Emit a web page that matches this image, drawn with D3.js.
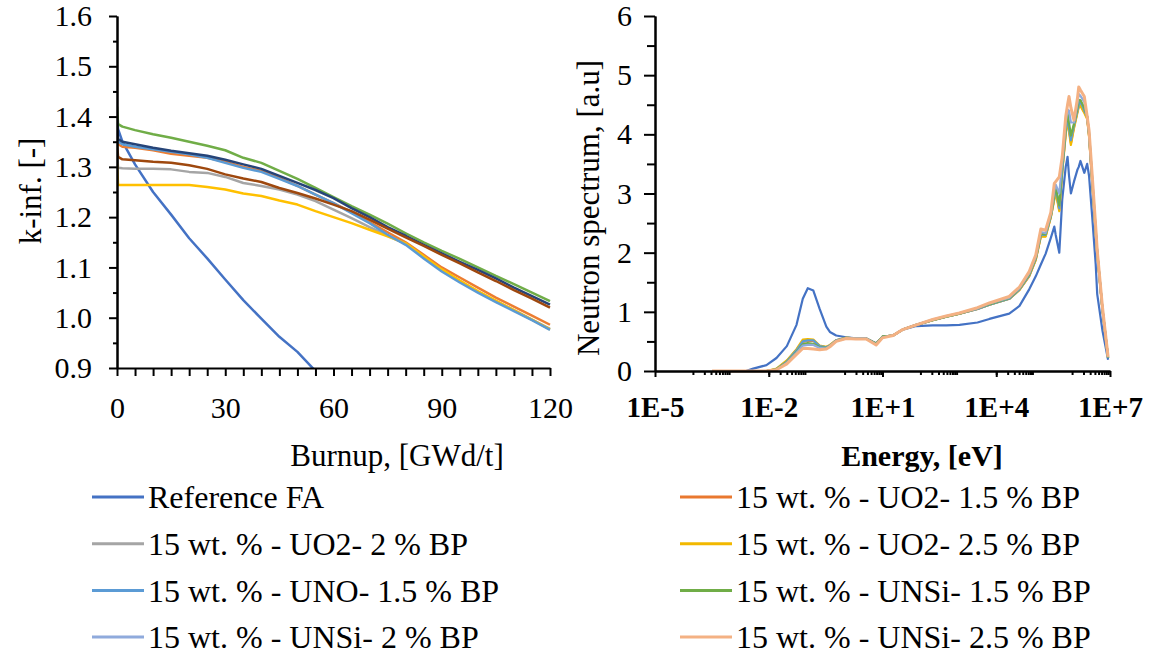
<!DOCTYPE html>
<html>
<head>
<meta charset="utf-8">
<script src="https://cdn.jsdelivr.net/npm/d3@7"></script>
<style>
  body { margin: 0; background: #fff; }
</style>
</head>
<body>
<svg id="chart" width="1151" height="655"></svg>
<script>
const width = 1151;
const height = 655;
const serif = "Liberation Serif";

// series (same order in both charts and legend)
const seriesNames = [
    "Reference FA",
    "15 wt. % - UO2- 1.5 % BP",
    "15 wt. % - UO2- 2 % BP",
    "15 wt. % - UO2- 2.5 % BP",
    "15 wt. % - UNO- 1.5 % BP",
    "15 wt. % - UNSi- 1.5 % BP",
    "15 wt. % - UNSi- 2 % BP",
    "15 wt. % - UNSi- 2.5 % BP"
];
const kinfColors = ["#4472C4", "#ED7D31", "#A5A5A5", "#FFC000", "#5B9BD5", "#70AD47", "#264478", "#9E480E"];
const spectrumColors = ["#4472C4", "#E9782F", "#A5A5A5", "#F2B800", "#5B9BD5", "#70AD47", "#8FAADC", "#F4B183"];

// k-inf vs burnup [GWd/t]
const burnup = [0, 0.3, 1.5, 5, 10, 15, 20, 25, 30, 35, 40, 45, 50, 55, 60, 65, 70, 75, 80, 85, 90, 95, 100, 105, 110, 115, 120];
const kinfRef      = [1.400, 1.375, 1.350, 1.305, 1.250, 1.205, 1.158, 1.118, 1.076, 1.035, 0.998, 0.962, 0.932, 0.894, null, null, null, null, null, null, null, null, null, null, null, null, null];
const kinfUO2_15   = [1.363, 1.345, 1.340, 1.338, 1.333, 1.326, 1.322, 1.318, 1.310, 1.300, 1.292, 1.278, 1.262, 1.245, 1.228, 1.210, 1.190, 1.170, 1.150, 1.125, 1.100, 1.080, 1.060, 1.040, 1.022, 1.004, 0.986];
const kinfUO2_2    = [1.330, 1.298, 1.297, 1.296, 1.296, 1.295, 1.290, 1.288, 1.280, 1.268, 1.262, 1.255, 1.245, 1.232, 1.215, 1.198, 1.180, 1.163, 1.147, 1.120, 1.095, 1.073, 1.052, 1.033, 1.015, 0.996, 0.978];
const kinfUO2_25   = [1.307, 1.264, 1.264, 1.264, 1.264, 1.264, 1.264, 1.260, 1.255, 1.247, 1.242, 1.233, 1.225, 1.212, 1.200, 1.188, 1.175, 1.162, 1.148, 1.122, 1.096, 1.074, 1.053, 1.034, 1.015, 0.996, 0.977];
const kinfUNO_15   = [1.375, 1.350, 1.345, 1.340, 1.335, 1.330, 1.325, 1.318, 1.308, 1.298, 1.290, 1.276, 1.262, 1.245, 1.228, 1.208, 1.188, 1.165, 1.145, 1.118, 1.092, 1.070, 1.050, 1.031, 1.013, 0.995, 0.976];
const kinfUNSi_15  = [1.420, 1.385, 1.380, 1.373, 1.365, 1.358, 1.350, 1.342, 1.333, 1.318, 1.308, 1.292, 1.276, 1.258, 1.240, 1.222, 1.205, 1.187, 1.168, 1.150, 1.133, 1.117, 1.100, 1.083, 1.067, 1.050, 1.033];
const kinfUNSi_2   = [1.395, 1.355, 1.350, 1.345, 1.338, 1.332, 1.327, 1.322, 1.314, 1.305, 1.296, 1.282, 1.268, 1.254, 1.238, 1.218, 1.200, 1.180, 1.163, 1.145, 1.128, 1.111, 1.095, 1.078, 1.060, 1.043, 1.026];
const kinfUNSi_25  = [1.347, 1.320, 1.315, 1.313, 1.310, 1.308, 1.303, 1.296, 1.285, 1.277, 1.270, 1.258, 1.248, 1.237, 1.225, 1.212, 1.195, 1.177, 1.160, 1.143, 1.125, 1.108, 1.090, 1.073, 1.055, 1.038, 1.020];
const kinfSeries = [kinfRef, kinfUO2_15, kinfUO2_2, kinfUO2_25, kinfUNO_15, kinfUNSi_15, kinfUNSi_2, kinfUNSi_25];

// neutron spectrum vs energy [eV]
const energy = [3.2e-4, 2.5e-3, 3.9e-3, 8.7e-3, 1.6e-2, 3.0e-2, 5.4e-2, 7.9e-2, 0.107, 0.15, 0.22, 0.33, 0.41, 0.6,
    1.1, 2.0, 3.7, 6.8, 10, 19, 34, 78, 210, 480, 1070, 3200, 6600, 2.2e4, 4.1e4, 7.4e4,
    1.1e5, 1.5e5, 2.0e5, 2.75e5, 3.4e5, 3.7e5, 4.6e5, 5.5e5, 6.8e5, 7.6e5, 8.3e5, 9.3e5,
    1.12e6, 1.38e6, 1.5e6, 1.66e6, 2.1e6, 2.5e6, 2.8e6, 3.4e6, 4.2e6, 4.6e6, 6.3e6, 8.9e6];
const specRef     = [null, 0.00, 0.04, 0.10, 0.22, 0.42, 0.78, 1.22, 1.40, 1.36, 1.05, 0.75, 0.66, 0.60,
    0.57, 0.55, 0.55, 0.47, 0.58, 0.60, 0.70, 0.76, 0.77, 0.77, 0.78, 0.82, 0.88, 0.97, 1.10, 1.38,
    1.60, 1.80, 1.98, 2.25, 2.44, 2.30, 2.00, 2.90, 3.45, 3.62, 3.30, 3.00,
    3.20, 3.40, 3.45, 3.55, 3.35, 3.50, 3.30, 2.60, 1.80, 1.30, 0.69, 0.19];
const specUO2_15  = [0, 0, 0, 0, 0.03, 0.16, 0.35, 0.49, 0.51, 0.51, 0.42, 0.40, 0.43, 0.52,
    0.56, 0.55, 0.55, 0.46, 0.58, 0.60, 0.70, 0.78, 0.86, 0.92, 0.97, 1.05, 1.12, 1.22, 1.37, 1.60,
    1.88, 2.28, 2.28, 2.60, 2.92, 3.05, 2.72, 3.38, 4.02, 4.28, 4.08, 3.85, 4.12, 4.38, 4.48, 4.50,
    4.38, 4.28, 3.98, 3.20, 2.35, 2.00, 1.05, 0.22];
const specUO2_2   = [0, 0, 0, 0, 0.03, 0.17, 0.36, 0.50, 0.52, 0.52, 0.42, 0.40, 0.43, 0.52,
    0.56, 0.55, 0.55, 0.46, 0.58, 0.60, 0.70, 0.78, 0.86, 0.92, 0.97, 1.05, 1.12, 1.22, 1.38, 1.61,
    1.89, 2.29, 2.29, 2.61, 2.93, 3.08, 2.74, 3.39, 4.05, 4.29, 4.09, 3.88, 4.14, 4.39, 4.49, 4.53,
    4.39, 4.29, 3.99, 3.20, 2.35, 2.00, 1.05, 0.22];
const specUO2_25  = [0, 0, 0, 0, 0.04, 0.18, 0.37, 0.53, 0.54, 0.53, 0.43, 0.41, 0.44, 0.52,
    0.56, 0.55, 0.55, 0.46, 0.58, 0.60, 0.70, 0.78, 0.86, 0.92, 0.97, 1.05, 1.12, 1.22, 1.37, 1.61,
    1.88, 2.27, 2.27, 2.60, 2.90, 3.02, 2.70, 3.36, 4.00, 4.25, 4.05, 3.82, 4.10, 4.36, 4.46, 4.48,
    4.36, 4.26, 3.96, 3.18, 2.34, 1.99, 1.05, 0.22];
const specUNO_15  = [0, 0, 0, 0, 0.03, 0.16, 0.35, 0.50, 0.52, 0.52, 0.42, 0.40, 0.43, 0.52,
    0.56, 0.55, 0.55, 0.46, 0.58, 0.60, 0.70, 0.78, 0.86, 0.92, 0.97, 1.05, 1.12, 1.22, 1.38, 1.62,
    1.90, 2.30, 2.30, 2.62, 2.95, 3.10, 2.75, 3.40, 4.07, 4.30, 4.10, 3.90, 4.15, 4.40, 4.50, 4.56,
    4.40, 4.30, 4.00, 3.20, 2.35, 2.00, 1.05, 0.22];
const specUNSi_15 = [0, 0, 0, 0, 0.03, 0.15, 0.32, 0.45, 0.47, 0.46, 0.40, 0.39, 0.42, 0.51,
    0.56, 0.55, 0.55, 0.46, 0.58, 0.60, 0.70, 0.78, 0.86, 0.92, 0.97, 1.06, 1.13, 1.23, 1.39, 1.63,
    1.91, 2.32, 2.31, 2.63, 2.98, 3.12, 2.80, 3.45, 4.12, 4.35, 4.20, 3.98, 4.18, 4.45, 4.58, 4.58,
    4.45, 4.30, 4.02, 3.24, 2.38, 2.01, 1.06, 0.22];
const specUNSi_2  = [0, 0, 0, 0, 0.02, 0.14, 0.31, 0.43, 0.44, 0.44, 0.39, 0.38, 0.42, 0.51,
    0.55, 0.55, 0.55, 0.45, 0.57, 0.60, 0.70, 0.78, 0.87, 0.93, 0.98, 1.06, 1.14, 1.24, 1.40, 1.65,
    1.93, 2.35, 2.33, 2.65, 3.05, 3.15, 3.00, 3.52, 4.20, 4.42, 4.40, 4.20, 4.20, 4.52, 4.68, 4.65,
    4.55, 4.30, 4.04, 3.26, 2.40, 2.02, 1.07, 0.23];
const specUNSi_25 = [0, 0, 0, 0, 0.02, 0.12, 0.28, 0.38, 0.38, 0.37, 0.36, 0.37, 0.41, 0.50,
    0.55, 0.54, 0.54, 0.44, 0.56, 0.60, 0.70, 0.78, 0.87, 0.93, 0.98, 1.07, 1.15, 1.26, 1.42, 1.68,
    1.96, 2.40, 2.38, 2.68, 3.17, 3.20, 3.28, 3.62, 4.30, 4.50, 4.64, 4.45, 4.24, 4.60, 4.80, 4.75,
    4.64, 4.30, 4.07, 3.30, 2.44, 2.04, 1.09, 0.24];
const specSeries = [specRef, specUO2_15, specUO2_2, specUO2_25, specUNO_15, specUNSi_15, specUNSi_2, specUNSi_25];

// ticks
const burnupTicks = d3.range(0, 121, 5);
const burnupLabels = [0, 30, 60, 90, 120];
const energyMajor = [1e-5, 1e-2, 1e1, 1e4, 1e7];
const energyMajorLabels = ["1E-5", "1E-2", "1E+1", "1E+4", "1E+7"];
const energyMinorDecades = [1e-4, 1e-2, 1, 1e2, 1e4, 1e6];

const svg = d3.select("#chart");

function styleAxis(g) {
    g.attr("font-family", null);
    g.select(".domain").attr("stroke", "#000").attr("stroke-width", 2);
    g.selectAll(".tick line").attr("stroke", "#000").attr("stroke-width", 2);
    g.selectAll(".tick text").attr("fill", "#000").attr("font-family", serif);
}

// ---------- left chart: k-inf ----------
const x1 = d3.scaleLinear().domain([0, 120]).range([117, 550]);
const y1 = d3.scaleLinear().domain([0.9, 1.6]).range([368, 16]);

svg.append("clipPath").attr("id", "clip1")
    .append("rect").attr("x", 117).attr("y", 10).attr("width", 440).attr("height", 358);

const kLine = d3.line()
    .defined(d => d[1] !== null)
    .x(d => x1(d[0]))
    .y(d => y1(d[1]));

svg.append("g").attr("clip-path", "url(#clip1)")
    .selectAll("path")
    .data(kinfSeries)
    .join("path")
    .attr("fill", "none")
    .attr("stroke", (d, i) => kinfColors[i])
    .attr("stroke-width", 2.5)
    .attr("stroke-linejoin", "round")
    .attr("d", s => kLine(s.map((v, j) => [burnup[j], v])));

// y axis minor + major
svg.append("g")
    .attr("transform", "translate(117,0)")
    .call(d3.axisLeft(y1).tickValues(d3.range(0.95, 1.6, 0.1)).tickSize(4).tickSizeOuter(0).tickFormat(""))
    .call(styleAxis);
const yAx1 = svg.append("g")
    .attr("transform", "translate(117,0)")
    .call(d3.axisLeft(y1).tickValues(d3.range(0.9, 1.61, 0.1)).tickSize(8).tickSizeOuter(0).tickPadding(17).tickFormat(d3.format(".1f")))
    .call(styleAxis);
yAx1.selectAll("text").attr("font-size", 30);

const xAx1 = svg.append("g")
    .attr("transform", "translate(0,368)")
    .call(d3.axisBottom(x1).tickValues(burnupTicks).tickSize(8).tickSizeOuter(0).tickPadding(21)
        .tickFormat(d => burnupLabels.includes(d) ? d : ""))
    .call(styleAxis);
xAx1.selectAll("text").attr("font-size", 30);

svg.append("text")
    .attr("x", 397).attr("y", 466)
    .attr("text-anchor", "middle")
    .attr("font-family", serif)
    .attr("font-size", 31)
    .text("Burnup, [GWd/t]");

svg.append("text")
    .attr("transform", "translate(30,191) rotate(-90)")
    .attr("text-anchor", "middle")
    .attr("dy", "0.35em")
    .attr("font-family", serif)
    .attr("font-size", 31)
    .text("k-inf. [-]");

// ---------- right chart: spectrum ----------
const x2 = d3.scaleLog().domain([1e-5, 1e7]).range([655, 1110]);
const y2 = d3.scaleLinear().domain([0, 6]).range([371, 16]);

const sLine = d3.line()
    .defined(d => d[1] !== null)
    .x(d => x2(d[0]))
    .y(d => y2(d[1]));

svg.append("g")
    .selectAll("path")
    .data(specSeries)
    .join("path")
    .attr("fill", "none")
    .attr("stroke", (d, i) => spectrumColors[i])
    .attr("stroke-width", (d, i) => i === 7 ? 3 : 2.2)
    .attr("stroke-linejoin", "round")
    .attr("d", s => sLine(s.map((v, j) => [energy[j], v])));

svg.append("g")
    .attr("transform", "translate(655,0)")
    .call(d3.axisLeft(y2).tickValues(d3.range(0.5, 6, 1)).tickSize(8).tickSizeOuter(0).tickFormat(""))
    .call(styleAxis);
const yAx2 = svg.append("g")
    .attr("transform", "translate(655,0)")
    .call(d3.axisLeft(y2).tickValues(d3.range(0, 7, 1)).tickSize(11).tickSizeOuter(0).tickPadding(12).tickFormat(d3.format("d")))
    .call(styleAxis);
yAx2.selectAll("text").attr("font-size", 30);

const minorE = [];
energyMinorDecades.forEach(dec => { for (let k = 1; k <= 9; k++) minorE.push(dec * k); });
svg.append("g")
    .attr("transform", "translate(0,371)")
    .call(d3.axisBottom(x2).tickValues(minorE).tickSize(4).tickSizeOuter(0).tickFormat(""))
    .call(styleAxis);
const xAx2 = svg.append("g")
    .attr("transform", "translate(0,371)")
    .call(d3.axisBottom(x2).tickValues(energyMajor).tickSize(6).tickSizeOuter(0).tickPadding(19)
        .tickFormat((d, i) => energyMajorLabels[i]))
    .call(styleAxis);
xAx2.selectAll("text").attr("font-size", 29).attr("font-weight", "bold");

svg.append("text")
    .attr("x", 922).attr("y", 466)
    .attr("text-anchor", "middle")
    .attr("font-family", serif)
    .attr("font-size", 30)
    .attr("font-weight", "bold")
    .text("Energy, [eV]");

svg.append("text")
    .attr("transform", "translate(588,208) rotate(-90)")
    .attr("text-anchor", "middle")
    .attr("dy", "0.35em")
    .attr("font-family", serif)
    .attr("font-size", 31)
    .text("Neutron spectrum, [a.u]");

// ---------- legend ----------
const legend = svg.append("g");
const legendItems = legend.selectAll("g")
    .data(seriesNames)
    .join("g")
    .attr("transform", (d, i) => `translate(${i % 2 === 0 ? 92 : 680}, ${497 + Math.floor(i / 2) * 46.7})`);
legendItems.append("line")
    .attr("x1", 0).attr("x2", 52)
    .attr("stroke", (d, i) => spectrumColors[i])
    .attr("stroke-width", 3);
legendItems.append("text")
    .attr("x", 56)
    .attr("dy", "0.35em")
    .attr("font-family", serif)
    .attr("font-size", 32)
    .attr("fill", "#000")
    .text(d => d);
</script>
</body>
</html>
